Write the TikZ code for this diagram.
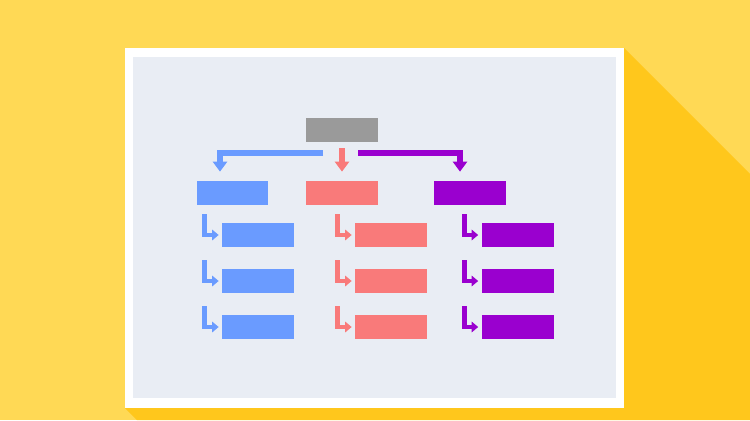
\documentclass[tikz,border=0pt]{standalone}
\usetikzlibrary{arrows.meta,calc}
\definecolor{bgyellow}{HTML}{FFD955}
\definecolor{shadowyellow}{HTML}{FFC71C}
\definecolor{panelgray}{HTML}{E9EDF4}
\definecolor{topgray}{HTML}{9A9A9A}
\definecolor{bluec}{HTML}{6A9BFF}
\definecolor{salmonc}{HTML}{F97A7A}
\definecolor{purplec}{HTML}{9A00CF}
\tikzset{box/.style={rectangle,minimum width=1.44cm,minimum height=0.48cm,inner sep=0pt}}
\tikzset{branch/.style={line width=0.12cm,-{Triangle[length=0.2cm,width=0.28cm]},shorten >=0.18cm}}
\tikzset{elbow/.style={line width=0.095cm,-{Triangle[length=0.13cm,width=0.21cm]},shorten >=0.06cm}}

\begin{document}
\begin{tikzpicture}[x=0.02cm,y=-0.02cm]
    % backdrop, long shadow and panel
    \fill[bgyellow] (0,0) rectangle (750,420);
    \useasboundingbox (0,0) rectangle (750,420);
    \fill[shadowyellow] (624,48) -- (750,174) -- (750,420) -- (137,420) -- (125,408) -- cycle;
    \fill[white] (125,48) rectangle (624,408);
    \fill[panelgray] (133,57) rectangle (616,398);
    % tree
    \node[box,fill=topgray] (top) at (342,130) {};
    \node[box,fill=bluec] (lblue) at (232.5,193) {};
    \node[box,fill=salmonc] (lsalmon) at (342,193) {};
    \node[box,fill=purplec] (lpurple) at (470,193) {};
    \node[box,fill=bluec] (cb1) at (258,235) {};
    \node[box,fill=bluec] (cb2) at (258,281) {};
    \node[box,fill=bluec] (cb3) at (258,327) {};
    \node[box,fill=salmonc] (cs1) at (391,235) {};
    \node[box,fill=salmonc] (cs2) at (391,281) {};
    \node[box,fill=salmonc] (cs3) at (391,327) {};
    \node[box,fill=purplec] (cp1) at (517.5,235) {};
    \node[box,fill=purplec] (cp2) at (517.5,281) {};
    \node[box,fill=purplec] (cp3) at (517.5,327) {};
    \coordinate (bstart) at (323,153);
    \coordinate (pstart) at (358,153);
    \draw[branch,bluec] (bstart) -| ([xshift=-0.25cm]lblue.north);
    \draw[branch,salmonc,shorten <=0.12cm] (top.south) -- (lsalmon.north);
    \draw[branch,purplec] (pstart) -| ([xshift=-0.2cm]lpurple.north);
    \draw[elbow,bluec] ($(cb1.west)+(-17,-21)$) |- (cb1.west);
    \draw[elbow,bluec] ($(cb2.west)+(-17,-21)$) |- (cb2.west);
    \draw[elbow,bluec] ($(cb3.west)+(-17,-21)$) |- (cb3.west);
    \draw[elbow,salmonc] ($(cs1.west)+(-17,-21)$) |- (cs1.west);
    \draw[elbow,salmonc] ($(cs2.west)+(-17,-21)$) |- (cs2.west);
    \draw[elbow,salmonc] ($(cs3.west)+(-17,-21)$) |- (cs3.west);
    \draw[elbow,purplec] ($(cp1.west)+(-17,-21)$) |- (cp1.west);
    \draw[elbow,purplec] ($(cp2.west)+(-17,-21)$) |- (cp2.west);
    \draw[elbow,purplec] ($(cp3.west)+(-17,-21)$) |- (cp3.west);
\end{tikzpicture}
\end{document}
